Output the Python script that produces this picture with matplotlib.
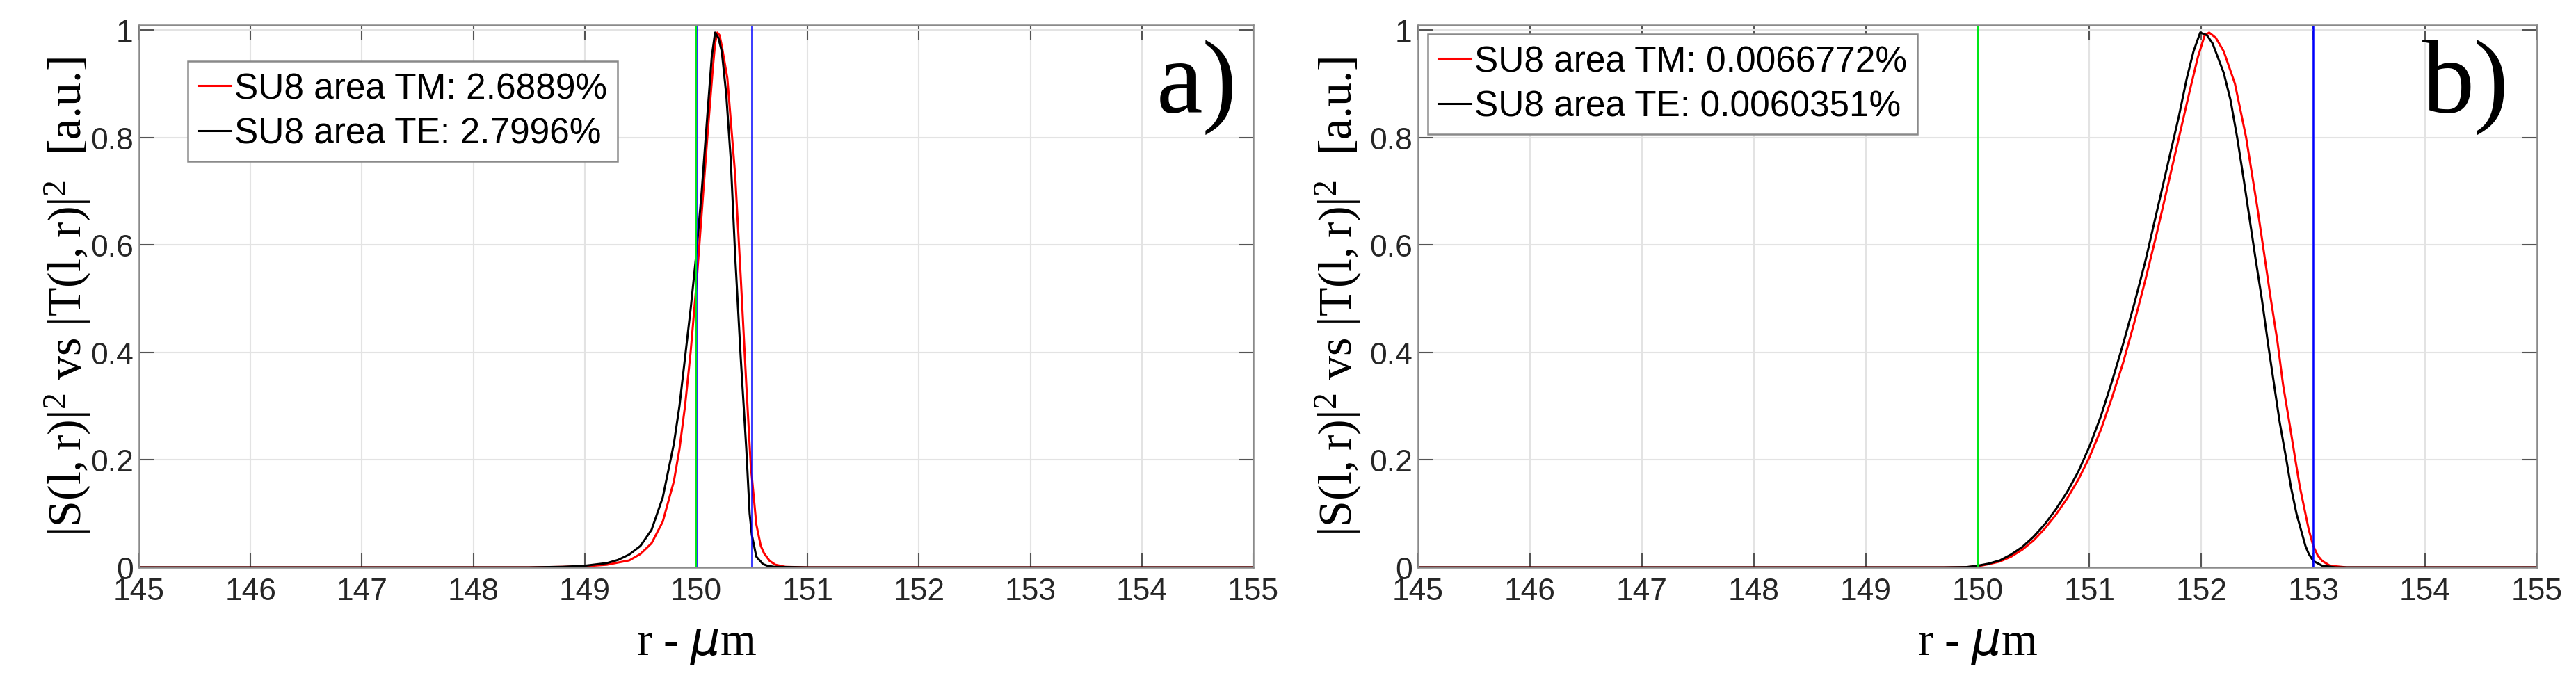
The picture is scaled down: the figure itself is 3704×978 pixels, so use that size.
import matplotlib
matplotlib.use("Agg")
import matplotlib.pyplot as plt

# panel a) -- mode profiles
ra_tm = [145.0, 148.5, 148.8, 149.0, 149.2, 149.4, 149.5, 149.6, 149.7, 149.8, 149.85, 149.9, 149.95,
         150.0, 150.05, 150.1, 150.15, 150.17, 150.19, 150.21, 150.23, 150.28, 150.35, 150.4, 150.45,
         150.49, 150.54, 150.58, 150.61, 150.66, 150.71, 150.8, 151.0, 155.0]
ya_tm = [0, 0, 0.001, 0.002, 0.005, 0.013, 0.025, 0.045, 0.085, 0.16, 0.22, 0.30, 0.40,
         0.52, 0.66, 0.80, 0.93, 0.975, 0.995, 0.99, 0.97, 0.91, 0.73, 0.54, 0.34,
         0.19, 0.08, 0.04, 0.026, 0.012, 0.005, 0.001, 0, 0]
ra_te = [145.0, 148.5, 148.8, 149.0, 149.2, 149.3, 149.4, 149.5, 149.6, 149.7, 149.8, 149.85, 149.9,
         149.95, 150.0, 150.05, 150.1, 150.14, 150.17, 150.2, 150.23, 150.27, 150.31, 150.35, 150.4,
         150.45, 150.48, 150.5, 150.54, 150.6, 150.64, 150.7, 151.0, 155.0]
ya_te = [0, 0, 0.001, 0.003, 0.008, 0.014, 0.024, 0.04, 0.07, 0.13, 0.23, 0.30, 0.39,
         0.48, 0.58, 0.70, 0.84, 0.95, 0.995, 0.985, 0.96, 0.88, 0.76, 0.58, 0.39,
         0.22, 0.10, 0.06, 0.02, 0.006, 0.003, 0.001, 0, 0]

# panel b)
rb_tm = [145.0, 149.7, 149.9, 150.0, 150.1, 150.2, 150.3, 150.4, 150.5, 150.6, 150.7, 150.8, 150.9,
         151.0, 151.1, 151.2, 151.3, 151.4, 151.5, 151.6, 151.7, 151.8, 151.9, 151.97, 152.03,
         152.07, 152.13, 152.2, 152.3, 152.4, 152.5, 152.56, 152.62, 152.68, 152.73, 152.79, 152.84,
         152.88, 152.92, 152.96, 153.0, 153.04, 153.08, 153.15, 153.3, 155.0]
yb_tm = [0, 0, 0.0004, 0.002, 0.006, 0.011, 0.02, 0.033, 0.05, 0.072, 0.098, 0.128, 0.163,
         0.205, 0.255, 0.315, 0.38, 0.455, 0.535, 0.62, 0.71, 0.80, 0.89, 0.95, 0.99,
         0.995, 0.985, 0.96, 0.90, 0.80, 0.67, 0.585, 0.50, 0.42, 0.34, 0.265, 0.20,
         0.15, 0.11, 0.07, 0.04, 0.022, 0.012, 0.003, 0, 0]
rb_te = [145.0, 149.7, 149.9, 150.0, 150.1, 150.2, 150.3, 150.4, 150.5, 150.6, 150.7, 150.8, 150.9,
         151.0, 151.1, 151.2, 151.3, 151.4, 151.5, 151.6, 151.7, 151.8, 151.87, 151.93, 151.99,
         152.05, 152.1, 152.2, 152.26, 152.32, 152.38, 152.43, 152.48, 152.54, 152.6, 152.65, 152.7,
         152.76, 152.8, 152.85, 152.89, 152.93, 152.96, 153.0, 153.08, 153.2, 155.0]
yb_te = [0, 0, 0.0005, 0.003, 0.007, 0.013, 0.024, 0.038, 0.057, 0.08, 0.108, 0.14, 0.178,
         0.225, 0.28, 0.345, 0.415, 0.49, 0.57, 0.66, 0.75, 0.84, 0.91, 0.96, 0.995,
         0.99, 0.975, 0.92, 0.87, 0.80, 0.72, 0.65, 0.58, 0.50, 0.41, 0.34, 0.27,
         0.20, 0.15, 0.10, 0.07, 0.04, 0.025, 0.012, 0.003, 0, 0]

labels_a = ['SU8 area TM: 2.6889%', 'SU8 area TE: 2.7996%']
labels_b = ['SU8 area TM: 0.0066772%', 'SU8 area TE: 0.0060351%']
edges_a = [150.0, 150.5]
edges_b = [150.0, 153.0]
xticks = list(range(145, 156))
yticks = [0, 0.2, 0.4, 0.6, 0.8, 1.0]
ytick_labels = ['0', '0.2', '0.4', '0.6', '0.8', '1']

W, H = 3704, 979
fig = plt.figure(figsize=(W / 100, H / 100), dpi=100)

sans = 'Liberation Sans'
serif = 'Liberation Serif'
plt.rcParams['mathtext.default'] = 'regular'


def panel(left_px, right_px, r_tm, y_tm, r_te, y_te, edges, labels, leg_xy, tag, ylab_x, tag_x):
    top_px, bot_px = 37, 817
    ax = fig.add_axes([left_px / W, 1 - bot_px / H, (right_px - left_px) / W, (bot_px - top_px) / H])
    ax.plot(r_tm, y_tm, color='red', lw=2.2, label=labels[0])
    ax.plot(r_te, y_te, color='black', lw=2.2, label=labels[1])
    ax.axvline(edges[0], color='blue', lw=2.6)
    ax.axvline(edges[0], color='#00ff00', lw=1.3)
    ax.axvline(edges[1], color='blue', lw=1.8)

    ax.set_xlim(145, 155)
    ax.set_ylim(0, 1.009)
    ax.set_xticks(xticks)
    ax.set_yticks(yticks)
    ax.set_yticklabels(ytick_labels)
    ax.grid(True, color='#e3e3e3', lw=1.5)
    ax.set_axisbelow(True)
    for s in ax.spines.values():
        s.set_color('#8a8a8a')
        s.set_linewidth(1.8)
    ax.tick_params(direction='in', length=15, width=1.5, color='#555555', top=True, right=True,
                   labelsize=32, pad=10, labelcolor='#262626')
    ax.tick_params(axis='y', pad=6)
    for t in ax.get_xticklabels() + ax.get_yticklabels():
        t.set_fontfamily(sans)

    ax.set_xlabel(r'r - $\mathit{\mu}$m', fontfamily=serif, fontsize=48, va='center')
    ax.xaxis.set_label_coords(0.5, -0.142)
    ax.set_ylabel(r'$|S(l,r)|^2$ vs $|T(l,r)|^2$  [a.u.]', fontfamily=serif, fontsize=49, va='center')
    ax.yaxis.set_label_coords(ylab_x, 0.5)

    leg = ax.legend(loc='upper left', bbox_to_anchor=(leg_xy[0] / W, 1 - leg_xy[1] / H),
                    bbox_transform=fig.transFigure, borderaxespad=0, fancybox=False, framealpha=1,
                    edgecolor='#8a8a8a', prop={'family': sans, 'size': 37}, handlelength=0.9,
                    handletextpad=0.1, labelspacing=0.3, borderpad=0.3)
    leg.get_frame().set_linewidth(1.8)

    ax.text(tag_x, 0.84, tag, transform=ax.transAxes, ha='right', va='baseline',
            fontfamily=serif, fontsize=108)
    return ax


panel(200, 1802, ra_tm, ya_tm, ra_te, ya_te, edges_a, labels_a, (270, 89), 'a)', -0.064, 0.986)
panel(2039, 3648, rb_tm, yb_tm, rb_te, yb_te, edges_b, labels_b, (2053, 50), 'b)', -0.071, 0.975)

fig.savefig('out.png', dpi=100, facecolor='white')
